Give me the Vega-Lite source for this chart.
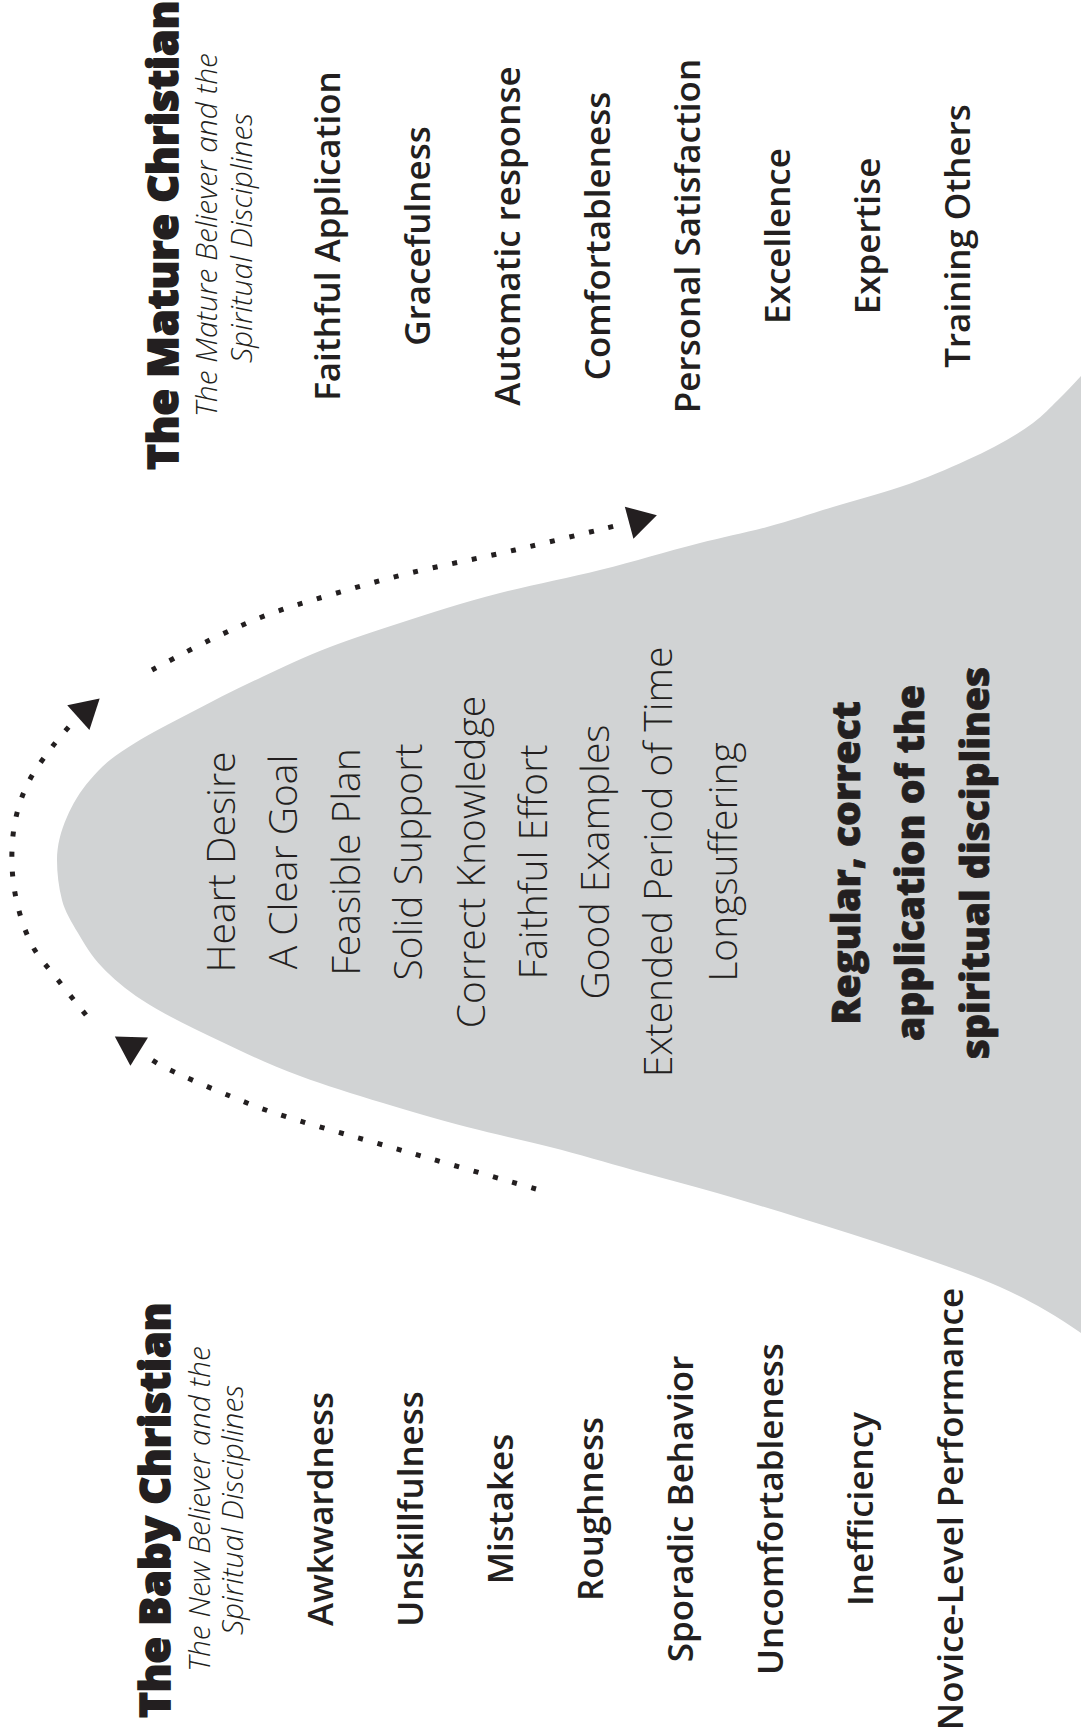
{
  "$schema": "https://vega.github.io/schema/vega-lite/v6.json",
  "width": 1081,
  "height": 1735,
  "autosize": {"type": "fit", "contains": "padding"},
  "padding": 0,
  "background": "white",
  "config": {"view": {"stroke": null}},
  "datasets": {
    "curve": [
      {"y": 376, "x": 1081}, {"y": 400, "x": 1058}, {"y": 423, "x": 1033}, {"y": 460, "x": 967},
      {"y": 487, "x": 900}, {"y": 507, "x": 833}, {"y": 527, "x": 767}, {"y": 543, "x": 700},
      {"y": 570, "x": 600}, {"y": 593, "x": 500}, {"y": 623, "x": 400}, {"y": 647, "x": 330},
      {"y": 677, "x": 262}, {"y": 713, "x": 190}, {"y": 743, "x": 135}, {"y": 760, "x": 110},
      {"y": 780, "x": 90}, {"y": 817, "x": 67}, {"y": 860, "x": 57}, {"y": 900, "x": 62},
      {"y": 933, "x": 78}, {"y": 967, "x": 102}, {"y": 1000, "x": 142}, {"y": 1042, "x": 222},
      {"y": 1076, "x": 300}, {"y": 1103, "x": 383}, {"y": 1127, "x": 467}, {"y": 1147, "x": 550},
      {"y": 1170, "x": 633}, {"y": 1193, "x": 717}, {"y": 1218, "x": 800}, {"y": 1250, "x": 900},
      {"y": 1287, "x": 1000}, {"y": 1310, "x": 1045}, {"y": 1333, "x": 1081}
    ],
    "paths": [
      {"ln": "lower", "i": 1, "x": 536, "y": 1189}, {"ln": "lower", "i": 2, "x": 411, "y": 1153},
      {"ln": "lower", "i": 3, "x": 287, "y": 1117}, {"ln": "lower", "i": 4, "x": 230, "y": 1096},
      {"ln": "lower", "i": 5, "x": 168, "y": 1069}, {"ln": "lower", "i": 6, "x": 145, "y": 1055},
      {"ln": "left", "i": 1, "x": 86, "y": 1015}, {"ln": "left", "i": 2, "x": 58, "y": 980},
      {"ln": "left", "i": 3, "x": 33, "y": 947}, {"ln": "left", "i": 4, "x": 18, "y": 907},
      {"ln": "left", "i": 5, "x": 12, "y": 865}, {"ln": "left", "i": 6, "x": 15, "y": 822},
      {"ln": "left", "i": 7, "x": 28, "y": 783}, {"ln": "left", "i": 8, "x": 52, "y": 747},
      {"ln": "left", "i": 9, "x": 76, "y": 719},
      {"ln": "upper", "i": 1, "x": 152, "y": 670}, {"ln": "upper", "i": 2, "x": 210, "y": 640},
      {"ln": "upper", "i": 3, "x": 267, "y": 615}, {"ln": "upper", "i": 4, "x": 330, "y": 595},
      {"ln": "upper", "i": 5, "x": 410, "y": 573}, {"ln": "upper", "i": 6, "x": 515, "y": 550},
      {"ln": "upper", "i": 7, "x": 627, "y": 523}
    ],
    "heads": [
      {"x": 127, "y": 1044, "a": 302},
      {"x": 89, "y": 708, "a": 48},
      {"x": 643, "y": 519, "a": 75}
    ],
    "labels": [
      {"g": "title", "t": "The Mature Christian", "x": 178, "y": 235},
      {"g": "title", "t": "The Baby Christian", "x": 170, "y": 1510},
      {"g": "sub", "t": "The Mature Believer and the", "x": 217, "y": 235},
      {"g": "sub", "t": "Spiritual Disciplines", "x": 252, "y": 238},
      {"g": "sub", "t": "The New Believer and the", "x": 210, "y": 1509},
      {"g": "sub", "t": "Spiritual Disciplines", "x": 243, "y": 1510},
      {"g": "item", "t": "Faithful Application", "x": 340, "y": 236},
      {"g": "item", "t": "Gracefulness", "x": 430, "y": 236},
      {"g": "item", "t": "Automatic response", "x": 520, "y": 236},
      {"g": "item", "t": "Comfortableness", "x": 610, "y": 236},
      {"g": "item", "t": "Personal Satisfaction", "x": 700, "y": 236},
      {"g": "item", "t": "Excellence", "x": 790, "y": 236},
      {"g": "item", "t": "Expertise", "x": 880, "y": 236},
      {"g": "item", "t": "Training Others", "x": 970, "y": 236},
      {"g": "item", "t": "Awkwardness", "x": 333, "y": 1509},
      {"g": "item", "t": "Unskillfulness", "x": 423, "y": 1509},
      {"g": "item", "t": "Mistakes", "x": 513, "y": 1509},
      {"g": "item", "t": "Roughness", "x": 603, "y": 1509},
      {"g": "item", "t": "Sporadic Behavior", "x": 693, "y": 1509},
      {"g": "item", "t": "Uncomfortableness", "x": 783, "y": 1509},
      {"g": "item", "t": "Inefficiency", "x": 873, "y": 1509},
      {"g": "item", "t": "Novice-Level Performance", "x": 963, "y": 1509},
      {"g": "mid", "t": "Heart Desire", "x": 235, "y": 862},
      {"g": "mid", "t": "A Clear Goal", "x": 297, "y": 862},
      {"g": "mid", "t": "Feasible Plan", "x": 360, "y": 862},
      {"g": "mid", "t": "Solid Support", "x": 422, "y": 862},
      {"g": "mid", "t": "Correct Knowledge", "x": 485, "y": 862},
      {"g": "mid", "t": "Faithful Effort", "x": 547, "y": 862},
      {"g": "mid", "t": "Good Examples", "x": 609, "y": 862},
      {"g": "mid", "t": "Extended Period of Time", "x": 672, "y": 862},
      {"g": "mid", "t": "Longsuffering", "x": 737, "y": 862},
      {"g": "bold", "t": "Regular, correct", "x": 860, "y": 863},
      {"g": "bold", "t": "application of the", "x": 924, "y": 863},
      {"g": "bold", "t": "spiritual disciplines", "x": 989, "y": 863}
    ]
  },
  "layer": [
    {
      "data": {"name": "curve"},
      "mark": {"type": "area", "orient": "horizontal", "interpolate": "monotone", "color": "#d1d3d4", "opacity": 1},
      "encoding": {
        "y": {"field": "y", "type": "quantitative", "scale": {"domain": [0, 1735], "reverse": true, "nice": false, "zero": false}, "axis": null},
        "x": {"field": "x", "type": "quantitative", "scale": {"domain": [0, 1081], "nice": false, "zero": false}, "axis": null, "stack": null},
        "x2": {"datum": 1081}
      }
    },
    {
      "data": {"name": "paths"},
      "mark": {"type": "line", "interpolate": "cardinal", "color": "#231f20", "strokeWidth": 5, "strokeDash": [5, 15], "strokeCap": "butt"},
      "encoding": {
        "x": {"field": "x", "type": "quantitative", "axis": null},
        "y": {"field": "y", "type": "quantitative", "axis": null},
        "detail": {"field": "ln"},
        "order": {"field": "i", "type": "quantitative"}
      }
    },
    {
      "data": {"name": "heads"},
      "mark": {"type": "point", "shape": "triangle-up", "filled": true, "opacity": 1, "size": 1100, "color": "#231f20", "strokeWidth": 0},
      "encoding": {
        "x": {"field": "x", "type": "quantitative", "axis": null},
        "y": {"field": "y", "type": "quantitative", "axis": null},
        "angle": {"field": "a", "type": "quantitative", "scale": null}
      }
    },
    {
      "data": {"name": "labels"},
      "transform": [{"filter": "datum.g === 'title'"}],
      "mark": {"type": "text", "angle": 270, "align": "center", "baseline": "alphabetic", "font": "Open Sans", "fontWeight": 800, "fontSize": 43, "color": "#231f20", "stroke": "#231f20", "strokeWidth": 1.6},
      "encoding": {
        "x": {"field": "x", "type": "quantitative", "axis": null},
        "y": {"field": "y", "type": "quantitative", "axis": null},
        "text": {"field": "t"}
      }
    },
    {
      "data": {"name": "labels"},
      "transform": [{"filter": "datum.g === 'sub'"}],
      "mark": {"type": "text", "angle": 270, "align": "center", "baseline": "alphabetic", "font": "Open Sans", "fontWeight": 300, "fontStyle": "italic", "fontSize": 30, "color": "#231f20"},
      "encoding": {
        "x": {"field": "x", "type": "quantitative", "axis": null},
        "y": {"field": "y", "type": "quantitative", "axis": null},
        "text": {"field": "t"}
      }
    },
    {
      "data": {"name": "labels"},
      "transform": [{"filter": "datum.g === 'item'"}],
      "mark": {"type": "text", "angle": 270, "align": "center", "baseline": "alphabetic", "font": "Open Sans", "fontWeight": 600, "fontSize": 35, "color": "#231f20"},
      "encoding": {
        "x": {"field": "x", "type": "quantitative", "axis": null},
        "y": {"field": "y", "type": "quantitative", "axis": null},
        "text": {"field": "t"}
      }
    },
    {
      "data": {"name": "labels"},
      "transform": [{"filter": "datum.g === 'mid'"}],
      "mark": {"type": "text", "angle": 270, "align": "center", "baseline": "alphabetic", "font": "Open Sans", "fontWeight": 300, "fontSize": 39, "color": "#231f20"},
      "encoding": {
        "x": {"field": "x", "type": "quantitative", "axis": null},
        "y": {"field": "y", "type": "quantitative", "axis": null},
        "text": {"field": "t"}
      }
    },
    {
      "data": {"name": "labels"},
      "transform": [{"filter": "datum.g === 'bold'"}],
      "mark": {"type": "text", "angle": 270, "align": "center", "baseline": "alphabetic", "font": "Open Sans", "fontWeight": 800, "fontSize": 39, "color": "#231f20", "stroke": "#231f20", "strokeWidth": 0.8},
      "encoding": {
        "x": {"field": "x", "type": "quantitative", "axis": null},
        "y": {"field": "y", "type": "quantitative", "axis": null},
        "text": {"field": "t"}
      }
    }
  ]
}
